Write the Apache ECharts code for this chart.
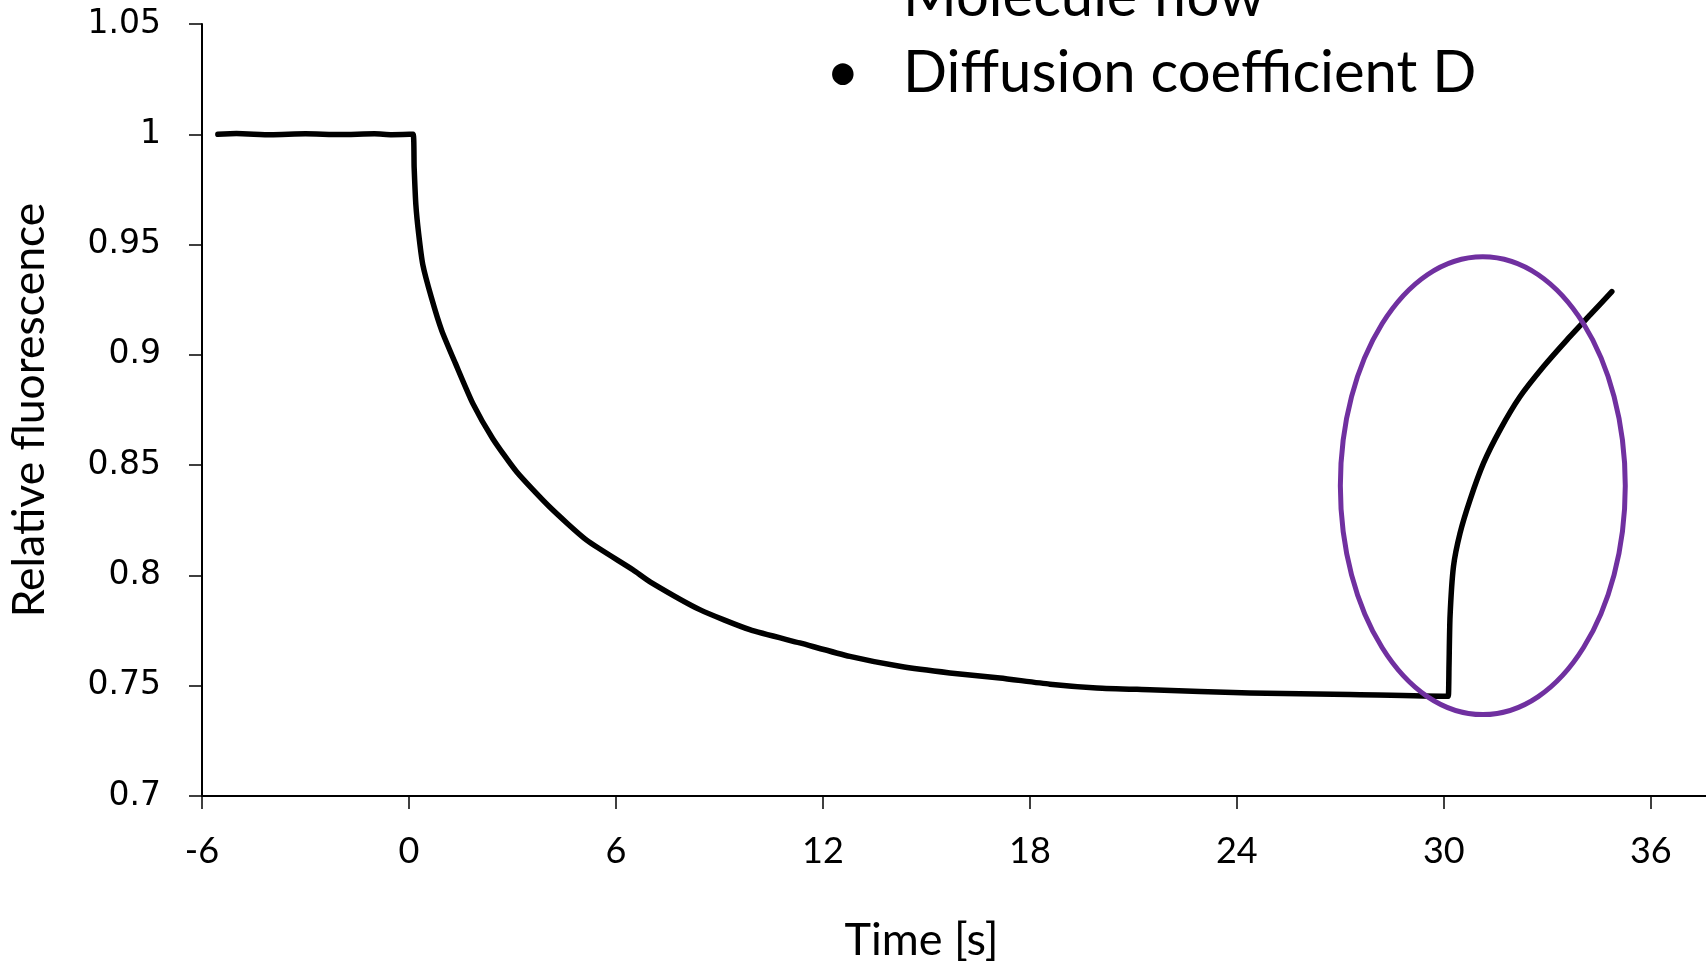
<!DOCTYPE html>
<html>
<head>
<meta charset="utf-8">
<script src="https://cdn.jsdelivr.net/npm/echarts@6/dist/echarts.min.js"></script>
<style>
html,body{margin:0;padding:0;background:#fff;}
#chart{width:1706px;height:963px;}
</style>
</head>
<body>
<div id="chart"></div>
<script>
// ---- data ----
const timeS = [-5.54, -5, -4, -3, -2, -1, -0.5, 0.12,
  0.15, 0.2, 0.28, 0.4, 0.65, 0.95, 1.35, 1.85, 2.43, 3.12, 4.08, 5.15, 6.49, 7.0,
  8.43, 9.88, 11.33, 12.78, 14.23, 15.68, 17.13, 18.58, 19.94, 21.48, 24.38, 27.28, 30.09,
  30.13, 30.15, 30.18, 30.28, 30.47, 30.76, 31.15, 31.63, 32.21, 32.89, 33.57, 34.24, 34.87];
const relFluor = [1.0, 1.0003, 0.9998, 1.0002, 0.9999, 1.0002, 0.9998, 1.0,
  0.985, 0.968, 0.955, 0.941, 0.926, 0.911, 0.896, 0.878, 0.862, 0.847, 0.831, 0.816, 0.8026, 0.797,
  0.7845, 0.7754, 0.7694, 0.7633, 0.7588, 0.7558, 0.7535, 0.7507, 0.749, 0.7482, 0.7467, 0.746, 0.7452,
  0.7452, 0.7588, 0.7814, 0.8041, 0.8192, 0.8343, 0.8509, 0.866, 0.8811, 0.8947, 0.9068, 0.9181, 0.9287];
const xTicks = [-6, 0, 6, 12, 18, 24, 30, 36];
const yTicks = [0.7, 0.75, 0.8, 0.85, 0.9, 0.95, 1, 1.05];
const bulletLines = ['Molecule flow', 'Diffusion coefficient D'];
// highlight ellipse, in data units: [centre time, centre value, half-width (s), half-height]
const highlight = [31.13, 0.8407, 4.13, 0.1038];

const chart = echarts.init(document.getElementById('chart'));
const points = timeS.map((t, i) => [t, relFluor[i]]);
const labelFont = 'Lato, "Open Sans", sans-serif';

const option = {
  backgroundColor: '#ffffff',
  animation: false,
  grid: { left: 202, right: 0, top: 24, bottom: 167, containLabel: false, outerBoundsMode: 'none' },
  xAxis: {
    type: 'value',
    min: xTicks[0], max: 37.6, interval: 6,
    name: 'Time [s]',
    nameLocation: 'middle',
    nameGap: 122,
    nameTextStyle: { fontFamily: labelFont, fontSize: 45, color: '#000', padding: [0, 65, 0, 0] },
    axisLine: { onZero: false, lineStyle: { color: '#000', width: 2 } },
    axisTick: { length: 13, lineStyle: { color: '#000', width: 1.5 } },
    axisLabel: {
      margin: 37, fontFamily: labelFont, fontSize: 36, color: '#000',
      showMaxLabel: false,
      formatter: v => (xTicks.includes(Math.round(v)) && Math.abs(v - Math.round(v)) < 1e-6) ? String(Math.round(v)) : ''
    },
    splitLine: { show: false }
  },
  yAxis: {
    type: 'value',
    min: yTicks[0], max: yTicks[yTicks.length - 1], interval: 0.05,
    name: 'Relative fluorescence',
    nameLocation: 'middle',
    nameGap: 150,
    nameTextStyle: { fontFamily: labelFont, fontSize: 44.5, color: '#000' },
    axisLine: { show: true, onZero: false, lineStyle: { color: '#000', width: 2 } },
    axisTick: { show: true, length: 13, lineStyle: { color: '#000', width: 1.5 } },
    axisLabel: {
      margin: 41, fontFamily: '"DejaVu Sans", sans-serif', fontSize: 33, color: '#000',
      formatter: v => String(+v.toFixed(2))
    },
    splitLine: { show: false }
  },
  series: [{
    type: 'line',
    data: points,
    showSymbol: false,
    smooth: 0.2,
    lineStyle: { color: '#000', width: 5.5, join: 'round', cap: 'round' },
    z: 2
  }]
};
chart.setOption(option);

function drawOverlay() {
  const c = chart.convertToPixel({ gridIndex: 0 }, [highlight[0], highlight[1]]);
  const e = chart.convertToPixel({ gridIndex: 0 }, [highlight[0] + highlight[2], highlight[1] + highlight[3]]);
  const rx = Math.abs(e[0] - c[0]);
  const ry = Math.abs(c[1] - e[1]);
  const f = '58px Lato, "Open Sans", sans-serif';
  chart.setOption({
    graphic: [
      {
        type: 'ellipse', z: 100,
        shape: { cx: c[0], cy: c[1], rx: rx, ry: ry },
        style: { fill: null, stroke: '#7030A0', lineWidth: 5 }
      },
      {
        type: 'text', z: 100, left: 903, top: -32,
        style: { text: bulletLines[0], font: f, fill: '#000' }
      },
      {
        type: 'text', z: 100, left: 826, top: 44,
        style: { text: '\u2022', font: f, fill: '#000' }
      },
      {
        type: 'text', z: 100, left: 903, top: 44,
        style: { text: bulletLines[1], font: f, fill: '#000' }
      }
    ]
  });
}
drawOverlay();
</script>
</body>
</html>
